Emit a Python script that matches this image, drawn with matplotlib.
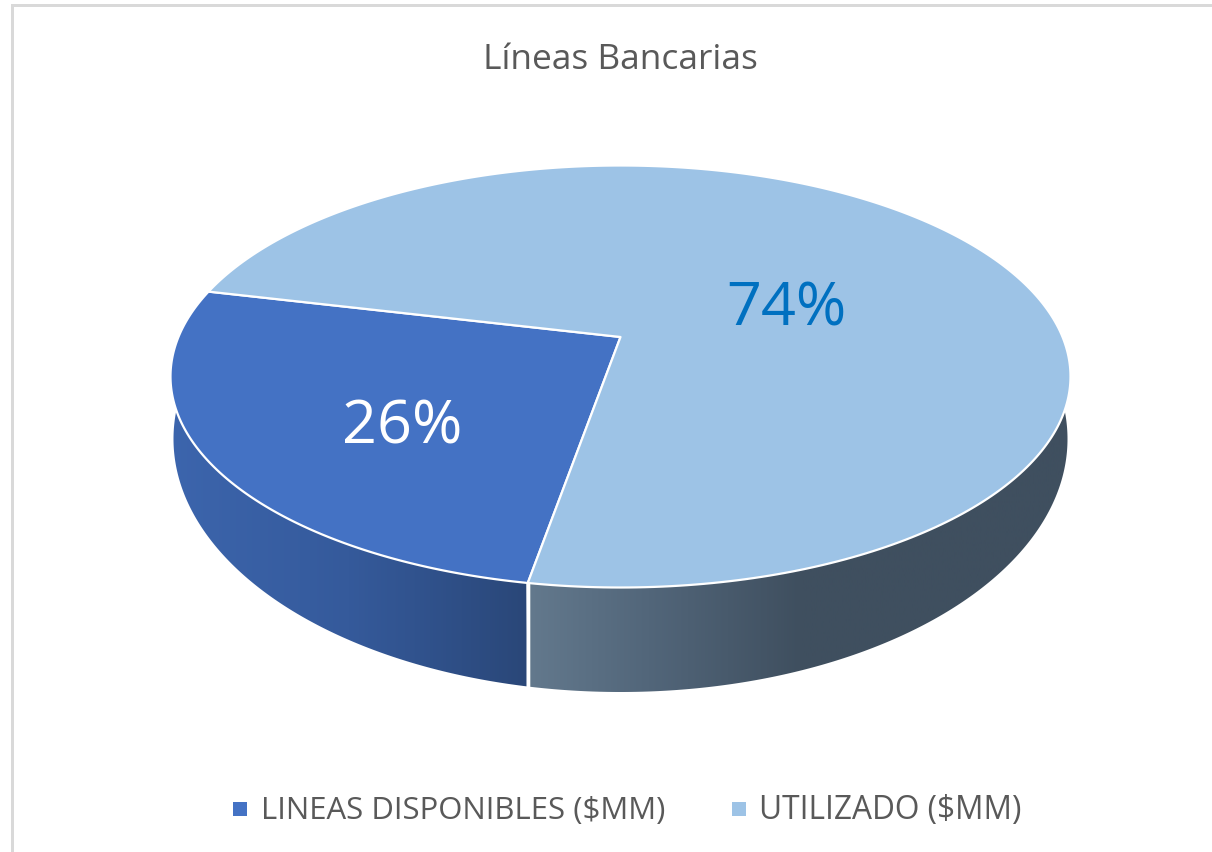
import numpy as np
import matplotlib
matplotlib.use("Agg")
import matplotlib.pyplot as plt
from matplotlib.colors import LinearSegmentedColormap
from matplotlib.patches import Polygon, Rectangle

TITLE = "Líneas Bancarias"
LABELS = ["LINEAS DISPONIBLES ($MM)", "UTILIZADO ($MM)"]
VALUES = [26, 74]
TOP_COLORS = ["#4472C4", "#9DC3E6"]
LABEL_COLORS = ["white", "#0070C0"]

plt.rcParams["font.family"] = ["Open Sans", "DejaVu Sans"]

W, H = 1212, 853
TEXT_GREY = "#595959"
START_ANGLE = 260.15  # degrees, slices run clockwise from here

# top face ellipse (pixels), apex sits above its centre because of the perspective
CX, CY, A, B = 620.5, 377.5, 450, 211
APEX_Y = 338
P = (CY - APEX_Y) / B
# bottom outline of the wall
LOW_CY, LOW_A, LOW_B = 440, 447, 253


def to_screen(theta):
    # point on the tilted rim for a true pie angle
    t = np.radians(theta)
    x, y = np.cos(t), np.sin(t)
    d = 1 + P * y
    sx = x * np.sqrt(1 - P**2) / d
    sy = (y + P) / d
    return CX + A * sx, CY - B * sy


fig = plt.figure(figsize=(W / 100, H / 100), dpi=100)
ax = fig.add_axes([0, 0, 1, 1])
ax.set_xlim(0, W)
ax.set_ylim(H, 0)
ax.axis("off")

# chart frame
ax.add_patch(Rectangle((11, 5), 3, H - 5, color="#D9D9D9", lw=0))
ax.add_patch(Rectangle((11, 5), W - 11, 3, color="#D9D9D9", lw=0))

fractions = np.array(VALUES) / sum(VALUES)
angles = START_ANGLE - np.concatenate([[0], np.cumsum(fractions)]) * 360

# side wall
seam_x, seam_y = to_screen(angles[0])
t = np.linspace(0, 2 * np.pi, 720)
low_x = CX + LOW_A * np.cos(t)
low_y = LOW_CY + LOW_B * np.sin(t)

wall_cmaps = [
    LinearSegmentedColormap.from_list("w0", ["#3C65AD", "#355A9B", "#2A4778"]),
    LinearSegmentedColormap.from_list(
        "w1", [(0, "#63798D"), (0.22, "#52667A"), (0.5, "#3F4F5F"), (1, "#3F4F5F")]
    ),
]
wall_spans = [(170, seam_x), (seam_x, 1072)]
for i, (x0, x1) in enumerate(wall_spans):
    keep = (low_x <= seam_x) if i == 0 else (low_x >= seam_x)
    pts = np.column_stack([low_x[keep], low_y[keep]])
    # order around the ellipse centre so the clip is one clean shape
    order = np.argsort(np.arctan2(pts[:, 1] - LOW_CY, pts[:, 0] - CX))
    clip = Polygon(pts[order], closed=True, transform=ax.transData, fc="none", ec="none")
    ax.add_patch(clip)
    im = ax.imshow(
        np.linspace(0, 1, 256).reshape(1, -1),
        extent=[x0, x1, 720, 170],
        cmap=wall_cmaps[i],
        aspect="auto",
        zorder=2,
    )
    im.set_clip_path(clip)
ax.set_xlim(0, W)
ax.set_ylim(H, 0)
ax.plot([seam_x, seam_x + 1], [seam_y, 692], color="white", lw=1.8, zorder=3)

# top face
for i in range(len(VALUES)):
    th = np.linspace(angles[i], angles[i + 1], 300)
    rx, ry = to_screen(th)
    px = np.concatenate([[CX], rx])
    py = np.concatenate([[APEX_Y], ry])
    ax.add_patch(
        Polygon(
            np.column_stack([px, py]),
            closed=True,
            fc=TOP_COLORS[i],
            ec="white",
            lw=1.6,
            joinstyle="round",
            zorder=4,
        )
    )

# value labels
label_pos = [(402, 428), (786, 309)]
for i, (lx, ly) in enumerate(label_pos):
    ax.text(
        lx, ly, f"{VALUES[i]}%", color=LABEL_COLORS[i], fontsize=44,
        ha="center", va="center", zorder=5,
    )

ax.text(620, 60, TITLE, color=TEXT_GREY, fontsize=25.4, ha="center", va="center", zorder=5)

# legend
legend_marker_x = [233, 732]
legend_text_x = [261, 759]
legend_size = [22.4, 22.8]
for i, label in enumerate(LABELS):
    ax.add_patch(Rectangle((legend_marker_x[i], 803), 14, 14, fc=TOP_COLORS[i], ec="none", zorder=5))
    ax.text(
        legend_text_x[i], 811, label, color=TEXT_GREY, fontsize=legend_size[i],
        ha="left", va="center", zorder=5,
    )

fig.savefig("out.png", dpi=100)
plt.close(fig)
